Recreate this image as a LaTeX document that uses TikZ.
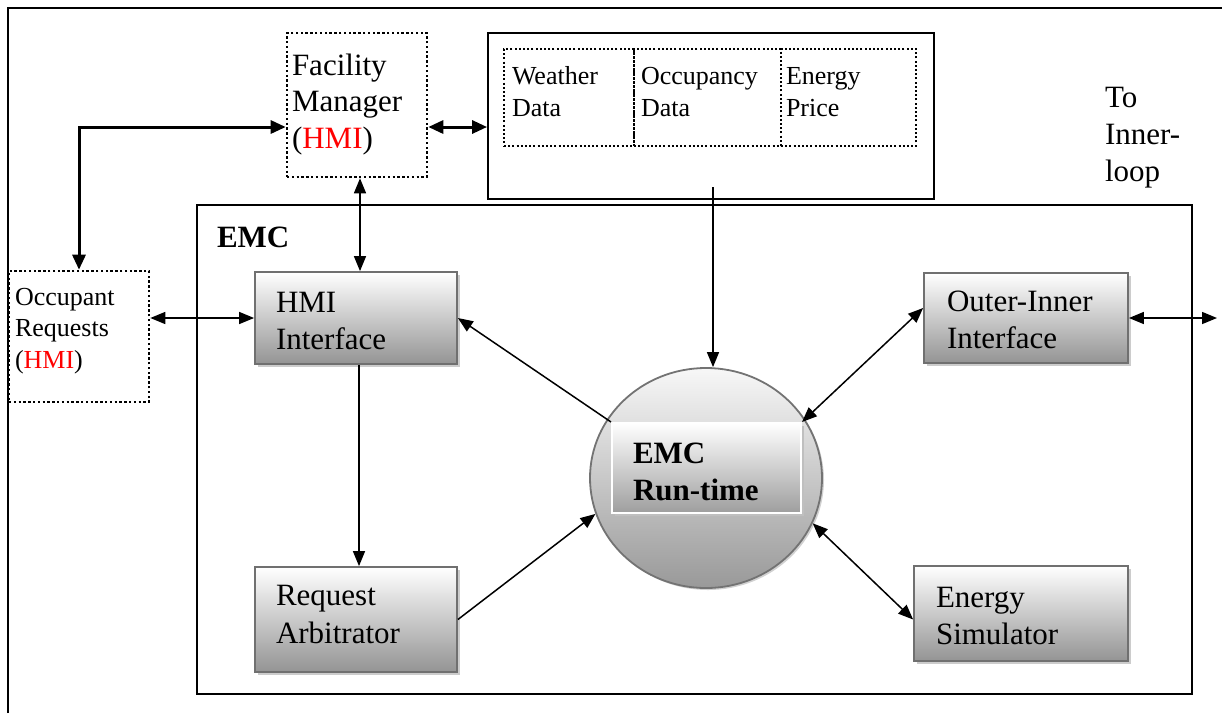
\documentclass[tikz,border=0pt]{standalone}
\usepackage{fontspec}
\setmainfont{Liberation Serif}
\usetikzlibrary{arrows.meta,shadows,shapes.geometric}
\begin{document}
\begin{tikzpicture}[x=1pt,y=-1pt,
  bigfont/.style={font=\fontsize{31}{36.5}\selectfont},
  smallfont/.style={font=\fontsize{26}{31.3}\selectfont},
  txt/.style={anchor=base west, inner sep=0pt, outer sep=0pt, align=left},
  gbox/.style={draw=black!56, line width=1.8pt, top color=white, bottom color=black!42,
    inner sep=0pt, drop shadow={shadow xshift=3pt, shadow yshift=-3pt, fill=black!20, opacity=1}},
  dotbox/.style={draw=black, line width=2.6pt, dash pattern=on 2.4pt off 2.4pt, inner sep=0pt},
  celldot/.style={draw=black, line width=2.2pt, dash pattern=on 2pt off 2.2pt, inner sep=0pt},
  solidbox/.style={draw=black, line width=1.8pt, inner sep=0pt},
  arr/.style={line width=1.5pt, -{Triangle[length=15pt,width=12pt]}},
  arrtwo/.style={line width=1.5pt, {Triangle[length=15pt,width=12pt]}-{Triangle[length=15pt,width=12pt]}},
  thickarrtwo/.style={line width=3pt, {Triangle[length=15pt,width=13pt]}-{Triangle[length=15pt,width=13pt]}}
]
\useasboundingbox (0,0) rectangle (1222,713);
% outer frame (top and left edges)
\draw[line width=1.5pt] (8,713) -- (8,8) -- (1222,8);

% EMC container
\node[solidbox, line width=2pt, minimum width=995pt, minimum height=489pt] (emc) at (694.5,449.5) {};
\node[txt, font=\fontsize{31}{36.5}\selectfont\bfseries] (emclabel) at (217,247) {EMC};

% Facility Manager
\node[dotbox, minimum width=140pt, minimum height=144pt] (fm) at (357,105) {};
\node[txt, bigfont] (fmt) at (292,148) {Facility\\Manager\\(\textcolor{red}{HMI})};

% Data box
\node[solidbox, minimum width=446pt, minimum height=166pt] (data) at (711,116) {};
\node[celldot, minimum width=130pt, minimum height=97pt] (wd) at (569,97.5) {};
\node[celldot, minimum width=147pt, minimum height=97pt] (od) at (707.5,97.5) {};
\node[celldot, minimum width=135pt, minimum height=97pt] (ep) at (848.5,97.5) {};
\node[txt, smallfont] (wdt) at (512,116) {Weather\\Data};
\node[txt, smallfont] (odt) at (641,116) {Occupancy\\Data};
\node[txt, smallfont] (ept) at (786,116) {Energy\\Price};

% To Inner-loop
\node[txt, font=\fontsize{31}{37}\selectfont] (toinner) at (1105,181) {To\\Inner-\\loop};

% Occupant Requests
\node[dotbox, minimum width=140pt, minimum height=131pt] (occ) at (79,336.5) {};
\node[txt, smallfont] (occt) at (15,368) {Occupant\\Requests\\(\textcolor{red}{HMI})};

% gradient boxes
\node[gbox, minimum width=202pt, minimum height=92pt] (hmi) at (356,318) {};
\node[txt, bigfont] (hmit) at (276,349) {HMI\\Interface};

\node[gbox, minimum width=202pt, minimum height=105pt] (ra) at (356,619.5) {};
\node[txt, font=\fontsize{31}{37.5}\selectfont] (rat) at (276,643) {Request\\Arbitrator};

\node[gbox, minimum width=204pt, minimum height=90pt] (oi) at (1026,318) {};
\node[txt, bigfont] (oit) at (947,348) {Outer-Inner\\Interface};

\node[gbox, minimum width=214pt, minimum height=95pt] (es) at (1021,613.5) {};
\node[txt, font=\fontsize{31}{37}\selectfont] (est) at (936,644) {Energy\\Simulator};

% EMC Run-time circle
\node[ellipse, draw=black!55, line width=1.8pt, top color=white!97!black, bottom color=black!40,
  minimum width=232pt, minimum height=220pt, inner sep=0pt,
  drop shadow={shadow xshift=2pt, shadow yshift=-2pt, fill=black!18, opacity=1}] (c) at (706,478) {};
\node[draw=white, line width=2pt, top color=white, bottom color=black!38, inner sep=0pt,
  minimum width=189pt, minimum height=90pt,
  drop shadow={shadow xshift=3pt, shadow yshift=-3pt, fill=black!25, opacity=1}] (rt) at (706.5,468) {};
\node[txt, font=\fontsize{31}{37}\selectfont\bfseries] (rtt) at (633,500) {EMC\\Run-time};

% connectors
\coordinate (k) at (79,127);
\draw[thickarrtwo] (fm.west |- k) -- (k) -- (k |- occ.north);
\draw[thickarrtwo] (fm.east |- k) -- (data.west |- k);
\draw[arrtwo] ([xshift=3pt]fm.south) -- ([xshift=4pt]hmi.north);
\draw[arrtwo] (occ.east |- hmi.west) -- (hmi.west);
\draw[arr] ([xshift=3pt]hmi.south) -- ([xshift=3pt]ra.north);
\coordinate (dt) at (713,187);
\draw[arr] (dt) -- (dt |- c.north);
\draw[arr] (rt.north west) -- (hmi.east);
\draw[arr] (ra.east) -- (c.198);
\draw[arrtwo] (rt.north east) -- ([yshift=10pt]oi.west);
\draw[arrtwo] (c.337) -- ([yshift=-6pt]es.west);
\coordinate (out) at (1217,318);
\draw[arrtwo] (oi.east) -- (out);
\end{tikzpicture}
\end{document}
